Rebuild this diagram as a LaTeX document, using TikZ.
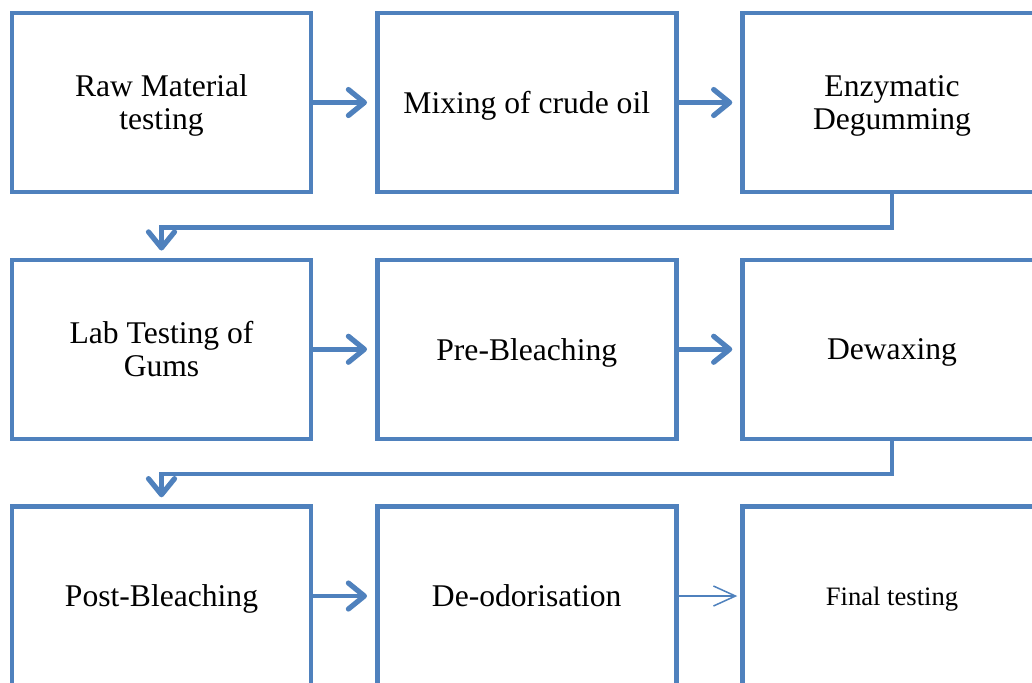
\documentclass[tikz,border=0pt]{standalone}
\usepackage{fontspec}
\setmainfont{Liberation Serif}
\usetikzlibrary{arrows.meta}
\definecolor{boxblue}{RGB}{79,129,189}
\tikzset{
  stepbox/.style={draw=boxblue, line width=2.25pt, minimum width=149.5pt,
    minimum height=89.5pt, inner sep=0pt, align=center, text depth=0pt,
    font=\fontsize{15.8}{16.5}\selectfont},
  flow/.style={draw=boxblue, line width=2.25pt,
    -{Straight Barb[length=8pt,width=13pt,line width=2.6pt,round]}, shorten >=4pt},
  thinflow/.style={draw=boxblue, line width=0.75pt,
    -{Straight Barb[length=11pt,width=10pt]}, shorten >=1.5pt}
}

\begin{document}
\begin{tikzpicture}

  \newcommand\X{182.625pt}
  \newcommand\Y{123.375pt}

  \clip (0,0) rectangle (516pt,-341pt);

  \node[stepbox] (raw) at (80.75pt, -51.25pt) {Raw Material\\testing};
  \node[stepbox] (mix) at (80.75pt+\X, -51.25pt) {Mixing of crude oil};
  \node[stepbox] (enz) at (80.75pt+2*\X, -51.25pt) {Enzymatic\\Degumming};

  \node[stepbox] (lab) at (80.75pt, -51.25pt-\Y) {Lab Testing of\\Gums};
  \node[stepbox] (pre) at (80.75pt+\X, -51.25pt-\Y) {Pre-Bleaching};
  \node[stepbox] (dew) at (80.75pt+2*\X, -51.25pt-\Y) {Dewaxing};

  \node[stepbox] (post) at (80.75pt, -51.25pt-2*\Y) {Post-Bleaching};
  \node[stepbox] (deo) at (80.75pt+\X, -51.25pt-2*\Y) {De-odorisation};
  \node[stepbox, font=\fontsize{13.3}{14}\selectfont] (fin) at (80.75pt+2*\X, -51.25pt-2*\Y) {Final testing};

  \draw[flow] (raw) -- (mix); %% raw->mix
  \draw[flow] (mix) -- (enz); %% mix->enz
  \draw[flow, shorten >=3.5pt] (enz.south) -- ++(0,-16.5pt) -| (lab.north); %% enz->lab

  \draw[flow] (lab) -- (pre); %% lab->pre
  \draw[flow] (pre) -- (dew); %% pre->dew
  \draw[flow, shorten >=3.5pt] (dew.south) -- ++(0,-16.5pt) -| (post.north); %% dew->post

  \draw[flow] (post) -- (deo); %% post->deo
  \draw[thinflow] (deo) -- (fin); %% deo->fin

\end{tikzpicture}
\end{document}
